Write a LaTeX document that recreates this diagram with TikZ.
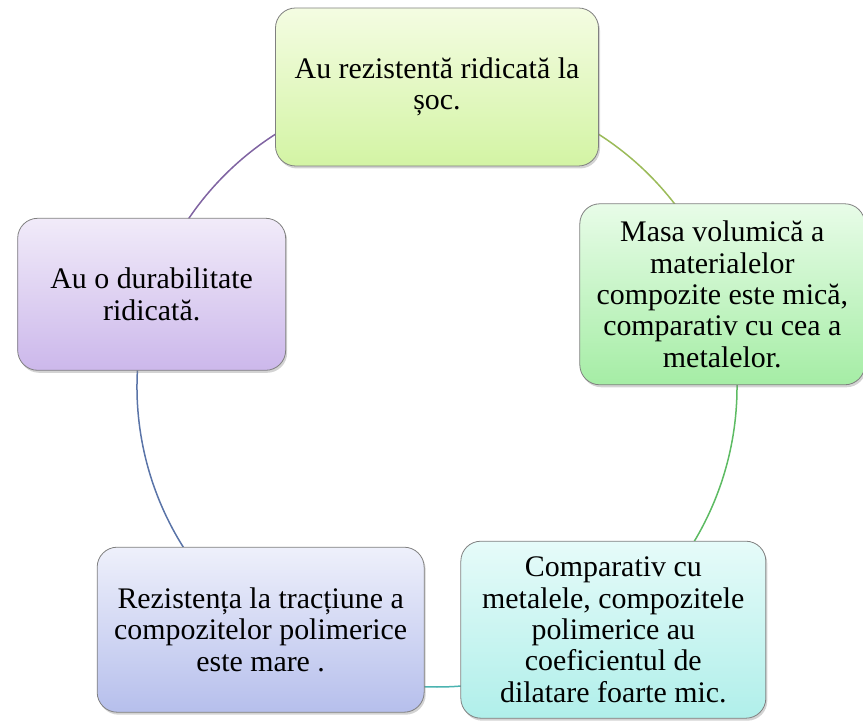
\documentclass[tikz,border=0pt]{standalone}
\usepackage{fontspec}
\setmainfont{Liberation Serif}
\usetikzlibrary{backgrounds,shadows}

\definecolor{limeTop}{HTML}{F4FCE2}
\definecolor{limeBot}{HTML}{D3F4A4}
\definecolor{greenTop}{HTML}{E8FCE8}
\definecolor{greenBot}{HTML}{A5EDA5}
\definecolor{aquaTop}{HTML}{E6FBF9}
\definecolor{aquaBot}{HTML}{B0EFEA}
\definecolor{blueTop}{HTML}{EEF0FB}
\definecolor{blueBot}{HTML}{B6BFEC}
\definecolor{lilacTop}{HTML}{F1EBF9}
\definecolor{lilacBot}{HTML}{CCB8EB}
\definecolor{linkA}{HTML}{9BBB59}
\definecolor{linkB}{HTML}{5DBB63}
\definecolor{linkC}{HTML}{4BB3B0}
\definecolor{linkD}{HTML}{5A74A8}
\definecolor{linkE}{HTML}{8064A2}

\begin{document}
\begin{tikzpicture}[
    x=1bp, y=1bp,
    font=\fontsize{30}{31.5}\selectfont,
    feat/.style={draw=black!50, line width=0.8bp, rounded corners=20bp,
                 align=center, inner sep=0pt,
                 drop shadow={shadow xshift=1.5bp, shadow yshift=-2.5bp, opacity=0.35}},
    link/.style={line width=1.5bp},
]
\useasboundingbox (-437,-337) rectangle (426,387);

% five properties placed round a circle of radius 300bp
\node[feat, top color=limeTop, bottom color=limeBot,
      minimum width=323bp, minimum height=158bp] (f1) at (90:300)
      {Au rezistentă ridicată la\\șoc.};
\node[feat, top color=greenTop, bottom color=greenBot,
      minimum width=285bp, minimum height=181bp] (f2) at (18:300)
      {Masa volumică a\\materialelor\\compozite este mică,\\comparativ cu cea a\\metalelor.};
\node[feat, top color=aquaTop, bottom color=aquaBot,
      minimum width=305bp, minimum height=177bp] (f3) at (-54:300)
      {Comparativ cu\\metalele, compozitele\\polimerice au\\coeficientul de\\dilatare foarte mic.};
\node[feat, top color=blueTop, bottom color=blueBot,
      minimum width=327bp, minimum height=165bp] (f4) at (-126:300)
      {Rezistența la tracțiune a\\compozitelor polimerice\\este mare .};
\node[feat, top color=lilacTop, bottom color=lilacBot,
      minimum width=268bp, minimum height=152bp] (f5) at (162:300)
      {Au o durabilitate\\ridicată.};

\begin{scope}[on background layer]
    \foreach \n/\s/\c in {f1/90/linkA, f2/18/linkB, f3/-54/linkC, f4/-126/linkD, f5/162/linkE}
        \draw[link, draw=\c] (\n.center) arc[start angle=\s, delta angle=-72, radius=300bp];
\end{scope}
\end{tikzpicture}
\end{document}
